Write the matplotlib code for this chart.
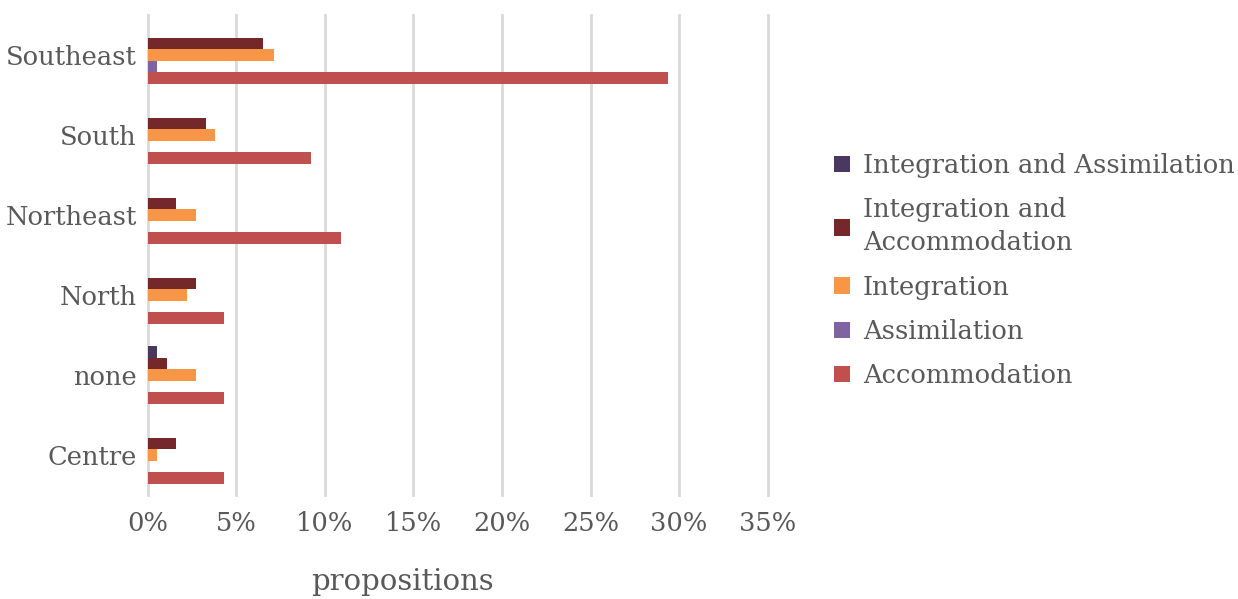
import matplotlib.pyplot as plt
import matplotlib.ticker as tkr
import numpy as np

regions = ["Centre", "none", "North", "Northeast", "South", "Southeast"]

series = ["Integration and Assimilation", "Integration and\nAccommodation",
          "Integration", "Assimilation", "Accommodation"]

# share of propositions, in percent
integ_assim = [0.0, 0.5, 0.0, 0.0, 0.0, 0.0]
integ_accom = [1.6, 1.1, 2.7, 1.6, 3.3, 6.5]
integration = [0.5, 2.7, 2.2, 2.7, 3.8, 7.1]
assimilation = [0.0, 0.0, 0.0, 0.0, 0.0, 0.5]
accommodation = [4.3, 4.3, 4.3, 10.9, 9.2, 29.4]

colors = ["#4b3861", "#75282a", "#f79646", "#8064a2", "#c0504d"]
text_grey = "#595959"

plt.rcParams['font.family'] = ['DejaVu Serif']

fig = plt.figure(figsize=(12.38, 5.99), dpi=100)
axe = fig.add_axes([0.1195, 0.174, 0.5005, 0.801])

y = np.arange(len(regions))
h = 0.144
values = [integ_assim, integ_accom, integration, assimilation, accommodation]
for i, (name, vals, c) in enumerate(zip(series, values, colors)):
    axe.barh(y + (2 - i) * h, vals, height=h, color=c, label=name, zorder=3)

axe.set_xlim(0, 35)
axe.set_ylim(-0.5, 5.5)
axe.set_xticks(np.arange(0, 36, 5))
axe.xaxis.set_major_formatter(tkr.FuncFormatter(lambda v, p: "%d%%" % v))
axe.set_yticks(y)
axe.set_yticklabels(regions)
axe.grid(True, axis="x", color="#d9d9d9", linewidth=2, zorder=0)
for gl in axe.get_xgridlines():
    gl.set_clip_on(False)
for s in axe.spines.values():
    s.set_visible(False)
axe.tick_params(length=0, labelsize=18.5, colors=text_grey)
axe.tick_params(axis="x", pad=12)
axe.tick_params(axis="y", pad=8)

axe.set_xlabel("propositions", fontsize=21, color=text_grey)
axe.xaxis.set_label_coords(0.411, -0.152)

leg = fig.legend(loc="upper left", bbox_to_anchor=(0.655, 0.783), frameon=False,
                 fontsize=18.5, labelcolor=text_grey, handlelength=0.62,
                 handleheight=0.62, handletextpad=0.5, labelspacing=0.75)
for t in leg.get_texts():
    t.set_linespacing(1.4)

plt.savefig("out.png")
